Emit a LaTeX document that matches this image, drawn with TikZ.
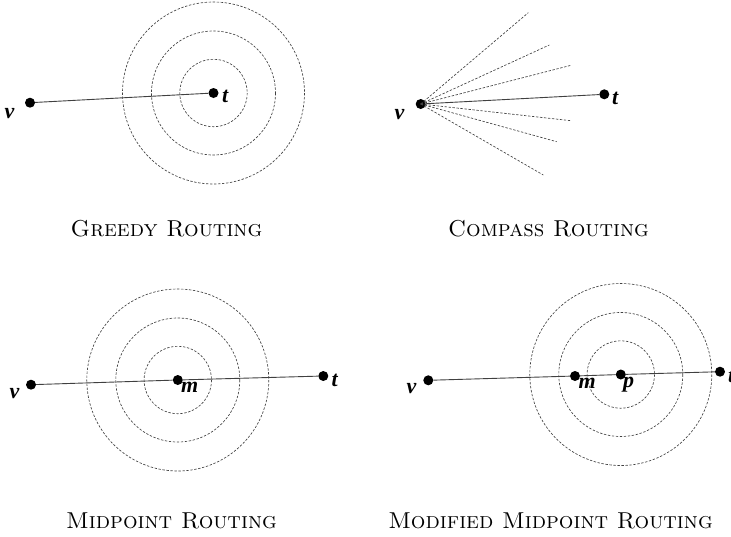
\documentclass[tikz,border=0pt]{standalone}
\usepackage{fontspec}
\newfontfamily\labfont{Liberation Serif}
\begin{document}
\begin{tikzpicture}[x=1pt,y=-1pt,
  dot/.style={circle,fill=black,inner sep=0pt,minimum size=10pt},
  link/.style={draw=black!75,line width=0.9pt},
  ring/.style={draw=black!75,line width=0.65pt,dash pattern=on 2.4pt off 1.6pt},
  ray/.style={ring},
  lab/.style={anchor=base west,inner sep=0pt,font=\labfont\bfseries\itshape\fontsize{22}{26}\selectfont},
  caption/.style={anchor=base,inner sep=0pt,font=\fontsize{23}{27}\selectfont\scshape}]
\useasboundingbox (0,0) rectangle (731,536);

% Greedy routing
\node[dot] (gv) at (30,102.7) {};
\node[dot] (gt) at (213.5,93) {};
\foreach \r in {33.7,62,91} \draw[ring] (gt.center) circle[radius=\r];
\draw[link] (gv) -- (gt);
\node[lab] (gvl) at (4.5,118) {v};
\node[lab] (gtl) at (222,102.7) {t};
\node[caption] (gcap) at (166.5,236.5) {Greedy Routing};

% Compass routing
\node[dot] (cv) at (420.7,104) {};
\node[dot] (ct) at (604.3,94.3) {};
\coordinate (r1) at (528.3,12.7);
\coordinate (r2) at (549.3,45);
\coordinate (r3) at (571,65.3);
\coordinate (r4) at (571,120.7);
\coordinate (r5) at (556.7,141.7);
\coordinate (r6) at (543.3,175);
\foreach \e in {r1,r2,r3,r4,r5,r6} \draw[ray] (cv.center) -- (\e);
\draw[link] (cv) -- (ct);
\node[lab] (cvl) at (394.5,119) {v};
\node[lab] (ctl) at (612,104) {t};
\node[caption] (ccap) at (548.5,236.5) {Compass Routing};

% Midpoint routing
\node[dot] (mv) at (31,384.7) {};
\node[dot] (mm) at (177.8,380) {};
\node[dot] (mt) at (323.3,376) {};
\foreach \r in {33.7,62,91} \draw[ring] (mm.center) circle[radius=\r];
\draw[link] (mv) -- (mm) -- (mt);
\node[lab] (mvl) at (9.5,398) {v};
\node[lab] (mml) at (181,392) {m};
\node[lab] (mtl) at (331.5,386) {t};
\node[caption] (mcap) at (171.5,528.5) {Midpoint Routing};

% Modified midpoint routing
\node[dot] (dv) at (428.3,380.3) {};
\node[dot] (dm) at (575,376) {};
\node[dot] (dp) at (620.8,374.5) {};
\node[dot] (dt) at (720,371.7) {};
\foreach \r in {33.7,62,91} \draw[ring] (dp.center) circle[radius=\r];
\draw[link] (dv) -- (dm) -- (dp) -- (dt);
\node[lab] (dvl) at (406.5,393) {v};
\node[lab] (dml) at (578.5,388) {m};
\node[lab] (dpl) at (623,387.5) {p};
\node[lab] (dtl) at (728,382) {t};
\node[caption] (dcap) at (550.5,528.5) {Modified Midpoint Routing};
\end{tikzpicture}
\end{document}
